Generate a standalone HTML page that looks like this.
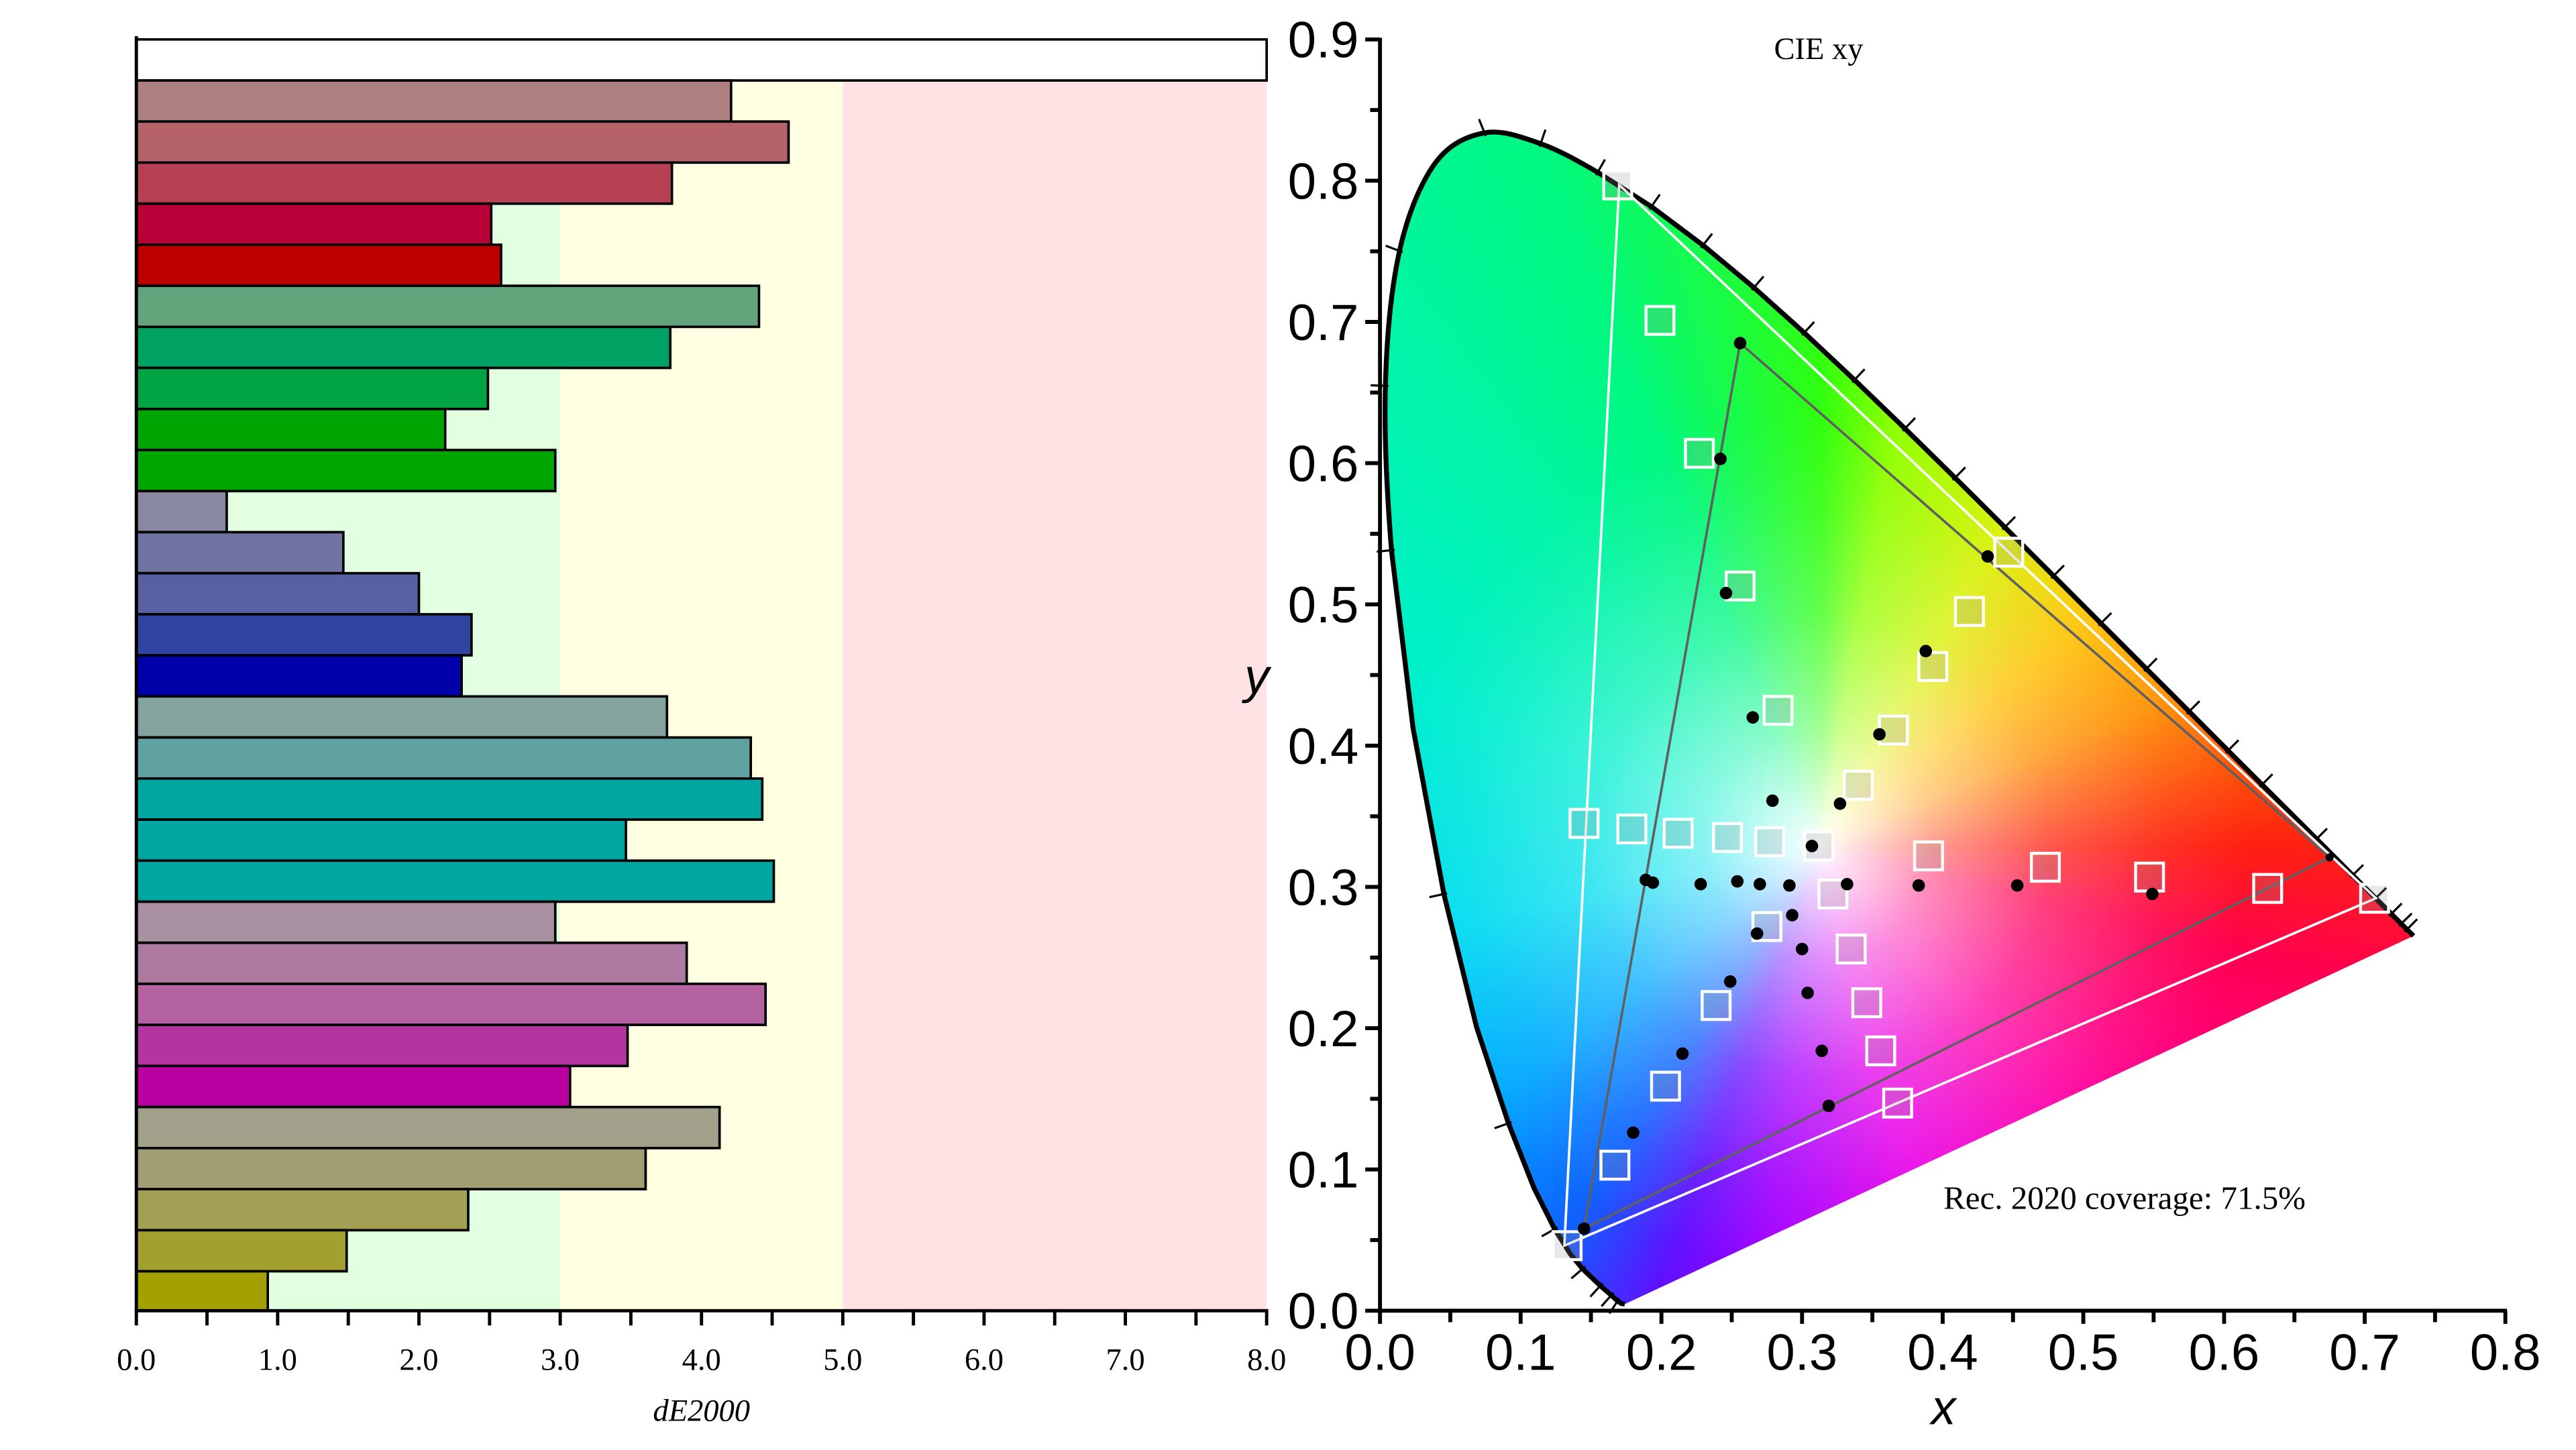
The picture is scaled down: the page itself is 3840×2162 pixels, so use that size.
<!DOCTYPE html>
<html><head><meta charset="utf-8"><style>
html,body{margin:0;padding:0;background:#fff;overflow:hidden}
#wrap{position:absolute;left:0;top:0;width:1568px;height:883px;transform:scale(2.44898,2.44898);transform-origin:0 0}
#hs{position:absolute;left:0;top:0;width:1568px;height:883px;
background:radial-gradient(circle at 1108px 515px, rgba(255,255,255,1) 0px, rgba(255,255,255,.85) 22px, rgba(255,255,255,.55) 70px, rgba(255,255,255,.25) 140px, rgba(255,255,255,.08) 210px, rgba(255,255,255,0) 260px),
conic-gradient(from 0deg at 1108px 515px, #30FF10 0deg, #90FF00 10deg, #D8F000 30deg, #FFC000 50deg, #FF9000 67deg, #FF2010 90deg, #FF0050 104deg, #FF00A0 135deg, #E800E8 165deg, #A000FF 188deg, #6010FF 200deg, #1060FF 213deg, #00A8FF 232deg, #00DDF0 258deg, #00EFD0 290deg, #00F5A8 320deg, #00F880 338deg, #30FF10 360deg);
clip-path:path('M989 794 L986.8 793.6 L984.6 792.1 L980.8 788.6 L974.1 782.8 L963.3 772.5 L956 763.7 L946.3 748.3 L933.8 723.4 L918.2 683.9 L898.8 625.4 L878.9 544.3 L860.1 443.1 L847 335 C844.2 300.3 842.5 265.3 843.3 234.9 C844.1 204.5 846.9 175.3 851.9 152.8 C856.9 130.3 864.7 111.7 873.3 99.7 C881.9 87.7 892.9 82.9 903.6 80.9 C914.4 78.9 926.3 83.5 937.8 87.5 C949.3 91.5 961.3 98.5 972.5 104.9 L1005.2 125.8 L1036.6 149.3 L1067.6 175.1 L1098.2 202.6 L1128.8 231.3 L1159.5 260.9 L1190 290.9 L1220.3 321 L1250 350.6 L1278.8 379.5 L1306.5 407.2 L1332.5 433.2 L1356.2 457 L1376.9 477.7 L1410.1 510.8 L1432.1 532.9 L1446.1 546.9 L1455.6 556.4 L1461.6 562.4 L1469.1 569.8 Z')}
svg{position:absolute;left:0;top:0}
text{font-family:"Liberation Sans",sans-serif}
.serif{font-family:"Liberation Serif",serif}
</style></head><body><div id="wrap">
<div id="hs"></div>
<svg width="1568" height="883" viewBox="0 0 1568 883">
<defs>
<marker id="tk" markerUnits="userSpaceOnUse" markerWidth="30" markerHeight="30" viewBox="-15 -15 30 30" refX="0" refY="0" orient="auto" overflow="visible"><line x1="0" y1="2" x2="0" y2="-9" stroke="#000" stroke-width="1.3"/></marker>
</defs>
<!-- LEFT CHART -->
<rect x="83" y="49" width="258" height="749" fill="#E2FFE2"/>
<rect x="341" y="49" width="172" height="749" fill="#FFFFE2"/>
<rect x="513" y="49" width="258" height="749" fill="#FFE2E4"/>
<g stroke="#000" stroke-width="1.5">
<rect x="83" y="24" width="688" height="25" fill="#FFFFFF"/>
<rect x="83" y="49" width="362" height="25" fill="#AE8082"/>
<rect x="83" y="74" width="397" height="25" fill="#B6626A"/>
<rect x="83" y="99" width="326" height="25" fill="#B84055"/>
<rect x="83" y="124" width="216" height="25" fill="#BA0038"/>
<rect x="83" y="149" width="222" height="25" fill="#BC0000"/>
<rect x="83" y="174" width="379" height="25" fill="#64A47C"/>
<rect x="83" y="199" width="325" height="25" fill="#00A264"/>
<rect x="83" y="224" width="214" height="25" fill="#00A444"/>
<rect x="83" y="249" width="188" height="25" fill="#00A400"/>
<rect x="83" y="274" width="255" height="25" fill="#00A600"/>
<rect x="83" y="299" width="55" height="25" fill="#8888A2"/>
<rect x="83" y="324" width="126" height="25" fill="#7072A2"/>
<rect x="83" y="349" width="172" height="25" fill="#5860A2"/>
<rect x="83" y="374" width="204" height="25" fill="#3244A2"/>
<rect x="83" y="399" width="198" height="25" fill="#0000A8"/>
<rect x="83" y="424" width="323" height="25" fill="#84A29E"/>
<rect x="83" y="449" width="374" height="25" fill="#60A2A0"/>
<rect x="83" y="474" width="381" height="25" fill="#00A6A0"/>
<rect x="83" y="499" width="298" height="25" fill="#00A6A0"/>
<rect x="83" y="524" width="388" height="25" fill="#00A6A0"/>
<rect x="83" y="549" width="255" height="25" fill="#A890A0"/>
<rect x="83" y="574" width="335" height="25" fill="#AE7AA2"/>
<rect x="83" y="599" width="383" height="25" fill="#B462A2"/>
<rect x="83" y="624" width="299" height="25" fill="#B434A0"/>
<rect x="83" y="649" width="264" height="25" fill="#BA00A0"/>
<rect x="83" y="674" width="355" height="25" fill="#A2A08A"/>
<rect x="83" y="699" width="310" height="25" fill="#A29E74"/>
<rect x="83" y="724" width="202" height="25" fill="#A2A054"/>
<rect x="83" y="749" width="128" height="25" fill="#A4A030"/>
<rect x="83" y="774" width="80" height="24" fill="#A4A000"/>
</g>
<g stroke="#000" stroke-width="2">
<line x1="83" y1="22" x2="83" y2="799"/>
<line x1="82" y1="798" x2="772" y2="798"/>
<line x1="83" y1="798" x2="83" y2="807"/><line x1="126" y1="798" x2="126" y2="807"/>
<line x1="169" y1="798" x2="169" y2="807"/><line x1="212" y1="798" x2="212" y2="807"/>
<line x1="255" y1="798" x2="255" y2="807"/><line x1="298" y1="798" x2="298" y2="807"/>
<line x1="341" y1="798" x2="341" y2="807"/><line x1="384" y1="798" x2="384" y2="807"/>
<line x1="427" y1="798" x2="427" y2="807"/><line x1="470" y1="798" x2="470" y2="807"/>
<line x1="513" y1="798" x2="513" y2="807"/><line x1="556" y1="798" x2="556" y2="807"/>
<line x1="599" y1="798" x2="599" y2="807"/><line x1="642" y1="798" x2="642" y2="807"/>
<line x1="685" y1="798" x2="685" y2="807"/><line x1="728" y1="798" x2="728" y2="807"/>
<line x1="771" y1="798" x2="771" y2="807"/>
</g>
<g font-size="19" text-anchor="middle" fill="#000">
<text class="serif" x="83" y="834">0.0</text><text class="serif" x="169" y="834">1.0</text>
<text class="serif" x="255" y="834">2.0</text><text class="serif" x="341" y="834">3.0</text>
<text class="serif" x="427" y="834">4.0</text><text class="serif" x="513" y="834">5.0</text>
<text class="serif" x="599" y="834">6.0</text><text class="serif" x="685" y="834">7.0</text>
<text class="serif" x="771" y="834">8.0</text>
<text class="serif" x="427" y="865" font-style="italic">dE2000</text>
</g>

<!-- RIGHT CHART -->
<path fill="none" stroke="#000" stroke-width="3" stroke-linejoin="round" d="M989 794 L986.8 793.6 L984.6 792.1 L980.8 788.6 L974.1 782.8 L963.3 772.5 L956 763.7 L946.3 748.3 L933.8 723.4 L918.2 683.9 L898.8 625.4 L878.9 544.3 L860.1 443.1 L847 335 C844.2 300.3 842.5 265.3 843.3 234.9 C844.1 204.5 846.9 175.3 851.9 152.8 C856.9 130.3 864.7 111.7 873.3 99.7 C881.9 87.7 892.9 82.9 903.6 80.9 C914.4 78.9 926.3 83.5 937.8 87.5 C949.3 91.5 961.3 98.5 972.5 104.9 L1005.2 125.8 L1036.6 149.3 L1067.6 175.1 L1098.2 202.6 L1128.8 231.3 L1159.5 260.9 L1190 290.9 L1220.3 321 L1250 350.6 L1278.8 379.5 L1306.5 407.2 L1332.5 433.2 L1356.2 457 L1376.9 477.7 L1410.1 510.8 L1432.1 532.9 L1446.1 546.9 L1455.6 556.4 L1461.6 562.4 L1469.1 569.8"/>
<polyline fill="none" stroke="none" marker-mid="url(#tk)" points="989,794 984.6,792.1 980.8,788.6 974.1,782.8 963.3,772.5 946.3,748.3 918.2,683.9 878.9,544.3 847,335 843.3,234.9 851.9,152.8 903.6,80.9 937.8,87.5 972.5,104.9 1005.2,125.8 1036.6,149.3 1067.6,175.1 1098.2,202.6 1128.8,231.3 1159.5,260.9 1190,290.9 1220.3,321 1250,350.6 1278.8,379.5 1306.5,407.2 1332.5,433.2 1356.2,457 1376.9,477.7 1410.1,510.8 1432.1,532.9 1446.1,546.9 1455.6,556.4 1461.6,562.4 1465,566 1469.1,569.8"/>
<polygon points="1446.2,546.9 985.6,112.6 952.2,758.4" fill="none" stroke="#fff" stroke-width="1.5"/>
<polygon points="1418,522 1059.2,208.9 964.2,748.1" fill="none" stroke="#606060" stroke-width="1.5"/>
<g fill="rgba(150,150,150,0.22)" stroke="#fff" stroke-width="1.8">
<rect x="976.2" y="104.1" width="17" height="17"/><rect x="1001.9" y="186.6" width="17" height="17"/>
<rect x="1025.9" y="267.5" width="17" height="17"/><rect x="1050.7" y="348.3" width="17" height="17"/>
<rect x="1073.8" y="424" width="17" height="17"/><rect x="955.7" y="492.8" width="17" height="17"/>
<rect x="984.8" y="496.2" width="17" height="17"/><rect x="1013" y="498.8" width="17" height="17"/>
<rect x="1043" y="501.4" width="17" height="17"/><rect x="1068.7" y="504" width="17" height="17"/>
<rect x="1098.6" y="506.6" width="17" height="17"/><rect x="1214.2" y="327.7" width="17" height="17"/>
<rect x="1190.3" y="363.8" width="17" height="17"/><rect x="1168" y="397.3" width="17" height="17"/>
<rect x="1144" y="436" width="17" height="17"/><rect x="1122.6" y="469.6" width="17" height="17"/>
<rect x="1165.4" y="512.6" width="17" height="17"/><rect x="1236.5" y="519.5" width="17" height="17"/>
<rect x="1299.9" y="525.5" width="17" height="17"/><rect x="1371.8" y="532.4" width="17" height="17"/>
<rect x="1436.9" y="538.4" width="17" height="17"/><rect x="1107.2" y="535.8" width="17" height="17"/>
<rect x="1067" y="555.6" width="17" height="17"/><rect x="1118.3" y="569.3" width="17" height="17"/>
<rect x="1036.1" y="603.7" width="17" height="17"/><rect x="1127.8" y="602" width="17" height="17"/>
<rect x="1005.3" y="652.8" width="17" height="17"/><rect x="1136.3" y="631.3" width="17" height="17"/>
<rect x="974.5" y="700.9" width="17" height="17"/><rect x="1146.6" y="663.1" width="17" height="17"/>
<rect x="945.4" y="749.9" width="17" height="17"/>
</g>
<g fill="#000">
<circle cx="1059.2" cy="208.9" r="3.8"/><circle cx="1047.2" cy="279.4" r="3.8"/>
<circle cx="1050.6" cy="361.1" r="3.8"/><circle cx="1066.9" cy="436.8" r="3.8"/>
<circle cx="1078.9" cy="487.5" r="3.8"/><circle cx="1120" cy="489.3" r="3.8"/>
<circle cx="1102.9" cy="515.1" r="3.8"/><circle cx="1172.2" cy="396.4" r="3.8"/>
<circle cx="1144" cy="447.1" r="3.8"/><circle cx="1209.9" cy="338.8" r="3.8"/>
<circle cx="1001.8" cy="535.7" r="3.8"/><circle cx="1006.1" cy="537.4" r="3.8"/>
<circle cx="1035.2" cy="538.3" r="3.8"/><circle cx="1057.5" cy="536.6" r="3.8"/>
<circle cx="1071.2" cy="538.3" r="3.8"/><circle cx="1089.2" cy="539.1" r="3.8"/>
<circle cx="1124.3" cy="538.3" r="3.8"/><circle cx="1167.9" cy="539.1" r="3.8"/>
<circle cx="1227.9" cy="539.1" r="3.8"/><circle cx="1310.1" cy="544.3" r="3.8"/>
<circle cx="1090.9" cy="557.2" r="3.8"/><circle cx="1069.5" cy="568.4" r="3.8"/>
<circle cx="1096.9" cy="577.8" r="3.8"/><circle cx="1053.2" cy="597.6" r="3.8"/>
<circle cx="1100.3" cy="604.5" r="3.8"/><circle cx="1024.1" cy="641.5" r="3.8"/>
<circle cx="1108.9" cy="639.8" r="3.8"/><circle cx="994.1" cy="689.6" r="3.8"/>
<circle cx="1113.1" cy="673.3" r="3.8"/><circle cx="964.2" cy="748.1" r="3.8"/>
<circle cx="1418" cy="522" r="2.5"/>
</g>
<g stroke="#000" stroke-width="2.4">
<line x1="840" y1="23" x2="840" y2="799"/>
<line x1="839" y1="798" x2="1526" y2="798"/>
<line x1="831" y1="24" x2="840" y2="24"/><line x1="834" y1="67" x2="840" y2="67"/>
<line x1="831" y1="110" x2="840" y2="110"/><line x1="834" y1="153" x2="840" y2="153"/>
<line x1="831" y1="196" x2="840" y2="196"/><line x1="834" y1="239" x2="840" y2="239"/>
<line x1="831" y1="282" x2="840" y2="282"/><line x1="834" y1="325" x2="840" y2="325"/>
<line x1="831" y1="368" x2="840" y2="368"/><line x1="834" y1="411" x2="840" y2="411"/>
<line x1="831" y1="454" x2="840" y2="454"/><line x1="834" y1="497" x2="840" y2="497"/>
<line x1="831" y1="540" x2="840" y2="540"/><line x1="834" y1="583" x2="840" y2="583"/>
<line x1="831" y1="626" x2="840" y2="626"/><line x1="834" y1="669" x2="840" y2="669"/>
<line x1="831" y1="712" x2="840" y2="712"/><line x1="834" y1="755" x2="840" y2="755"/>
<line x1="831" y1="798" x2="840" y2="798"/>
<line x1="840" y1="798" x2="840" y2="806"/><line x1="882.8" y1="798" x2="882.8" y2="805"/>
<line x1="925.6" y1="798" x2="925.6" y2="806"/><line x1="968.4" y1="798" x2="968.4" y2="805"/>
<line x1="1011.3" y1="798" x2="1011.3" y2="806"/><line x1="1054.1" y1="798" x2="1054.1" y2="805"/>
<line x1="1096.9" y1="798" x2="1096.9" y2="806"/><line x1="1139.7" y1="798" x2="1139.7" y2="805"/>
<line x1="1182.5" y1="798" x2="1182.5" y2="806"/><line x1="1225.3" y1="798" x2="1225.3" y2="805"/>
<line x1="1268.1" y1="798" x2="1268.1" y2="806"/><line x1="1310.9" y1="798" x2="1310.9" y2="805"/>
<line x1="1353.8" y1="798" x2="1353.8" y2="806"/><line x1="1396.6" y1="798" x2="1396.6" y2="805"/>
<line x1="1439.4" y1="798" x2="1439.4" y2="806"/><line x1="1482.2" y1="798" x2="1482.2" y2="805"/>
<line x1="1525" y1="798" x2="1525" y2="806"/>
</g>
<g font-size="31" fill="#000" text-anchor="end">
<text x="827" y="35">0.9</text><text x="827" y="121">0.8</text><text x="827" y="207">0.7</text>
<text x="827" y="293">0.6</text><text x="827" y="379">0.5</text><text x="827" y="465">0.4</text>
<text x="827" y="551">0.3</text><text x="827" y="637">0.2</text><text x="827" y="723">0.1</text>
<text x="827" y="809">0.0</text>
</g>
<g font-size="31" fill="#000" text-anchor="middle">
<text x="840" y="834">0.0</text><text x="925.6" y="834">0.1</text><text x="1011.3" y="834">0.2</text>
<text x="1096.9" y="834">0.3</text><text x="1182.5" y="834">0.4</text><text x="1268.1" y="834">0.5</text>
<text x="1353.8" y="834">0.6</text><text x="1439.4" y="834">0.7</text><text x="1525" y="834">0.8</text>
<text x="1183" y="867" font-style="italic" font-size="30">x</text>
<text x="765" y="422" font-style="italic" font-size="30">y</text>
</g>
<text class="serif" x="1107" y="36" font-size="19" text-anchor="middle">CIE xy</text>
<text class="serif" x="1183" y="736" font-size="20">Rec. 2020 coverage: 71.5%</text>
</svg>
</div></body></html>
